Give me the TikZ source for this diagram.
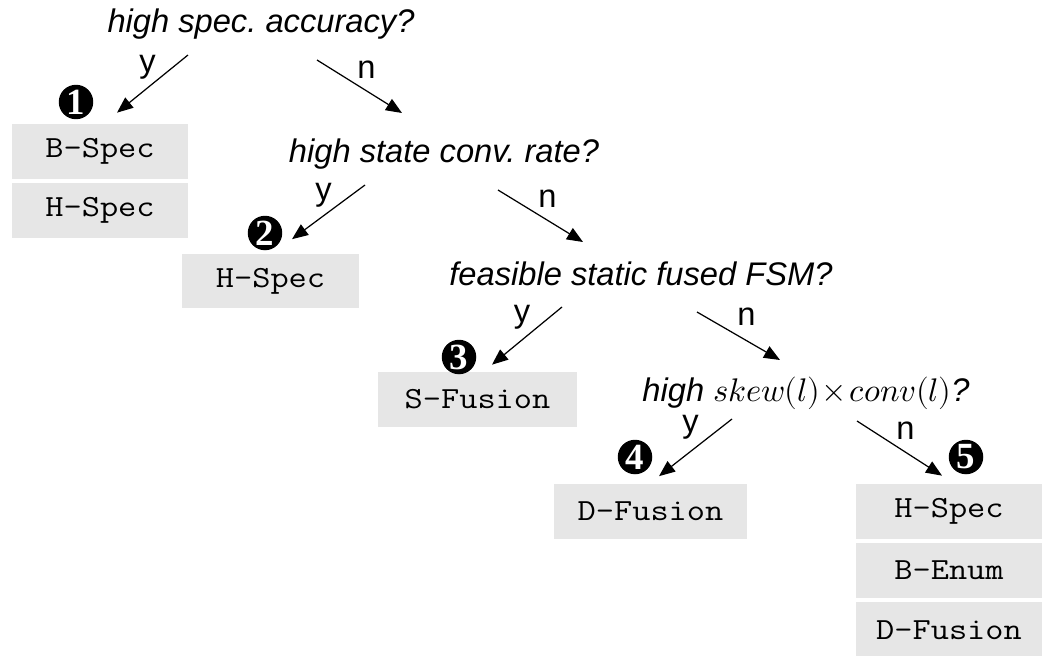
\documentclass[tikz,border=0pt]{standalone}
\usepackage{fontspec}
\usepackage{unicode-math}
\setmainfont{Liberation Sans}
\setmathfont{Latin Modern Math}
\newfontfamily\boxfont{Latin Modern Mono}[FakeStretch=1.15]
\newfontfamily\badgefont{Liberation Serif}
\usetikzlibrary{arrows.meta,positioning}
\definecolor{leafgray}{RGB}{230,230,230}
\frenchspacing

\begin{document}
\begin{tikzpicture}[
  x=0.02cm, y=-0.02cm,
  node distance=0.07cm,
  question/.style={inner sep=0, anchor=base, font=\fontsize{18.6}{22}\selectfont\itshape},
  leaf/.style={rectangle, fill=leafgray, inner sep=0, minimum height=1.1cm, font=\fontsize{17.5}{20}\selectfont\boxfont},
  badge/.style={circle, fill=black, text=white, inner sep=0, minimum size=0.69cm, font=\fontsize{21}{22}\selectfont\badgefont\bfseries},
  ans/.style={inner sep=0, font=\fontsize{18.6}{22}\selectfont},
  arrow/.style={-{Triangle[length=0.32cm, width=0.26cm]}, line width=0.7pt}
]
\useasboundingbox (0,0) rectangle (1042,656);

% questions
\node[question] (q1) at (261,32) {high spec. accuracy?};
\node[question] (q2) at (444,162) {high state conv. rate?};
\node[question] (q3) at (641,285) {feasible static fused FSM?};
\node[question] (q4) at (806,401) {high $skew(l)\mkern1mu{\times}\mkern1mu conv(l)$?};

% leaves
\node[leaf, minimum width=3.52cm] (b1a) at (100,151.5) {B–Spec};
\node[leaf, minimum width=3.52cm, below=of b1a] (b1b) {H–Spec};
\node[leaf, minimum width=3.54cm] (b2) at (270.5,281) {H–Spec};
\node[leaf, minimum width=3.98cm] (b3) at (477.5,399.5) {S–Fusion};
\node[leaf, minimum width=3.86cm] (b4) at (650.5,511) {D–Fusion};
\node[leaf, minimum width=3.72cm] (b5a) at (949,511.5) {H–Spec};
\node[leaf, minimum width=3.72cm, below=of b5a] (b5b) {B–Enum};
\node[leaf, minimum width=3.72cm, below=of b5b] (b5c) {D–Fusion};

% markers
\node[badge] (m1) at (76,102) {1};
\node[badge] (m2) at (265,233) {2};
\node[badge] (m3) at (459,357) {3};
\node[badge] (m4) at (635,457) {4};
\node[badge] (m5) at (966,457) {5};

% yes / no branches
\draw[arrow] ([shift={(-73,23)}]q1.base) -- node[ans, shift={(-5,-17)}] {y} ([shift={(17,-11)}]b1a.north);
\draw[arrow] ([shift={(56,28)}]q1.base) -- node[ans, shift={(7,-17)}] {n} ([shift={(-42,-49)}]q2.base);
\draw[arrow] ([shift={(-79,23)}]q2.base) -- node[ans, shift={(-5,-17)}] {y} ([shift={(21.5,-14)}]b2.north);
\draw[arrow] ([shift={(54,28)}]q2.base) -- node[ans, shift={(7,-17)}] {n} ([shift={(-58,-43)}]q3.base);
\draw[arrow] ([shift={(-79,22)}]q3.base) -- node[ans, shift={(-5,-19)}] {y} ([shift={(14.5,-7)}]b3.north);
\draw[arrow] ([shift={(56,27)}]q3.base) -- node[ans, shift={(8,-19)}] {n} ([shift={(-26,-41)}]q4.base);
\draw[arrow] ([shift={(-74,18)}]q4.base) -- node[ans, shift={(-5,-20)}] {y} ([shift={(8.5,-7)}]b4.north);
\draw[arrow] ([shift={(51,20)}]q4.base) -- node[ans, shift={(6,-18)}] {n} ([shift={(-7,-8)}]b5a.north);
\end{tikzpicture}
\end{document}
